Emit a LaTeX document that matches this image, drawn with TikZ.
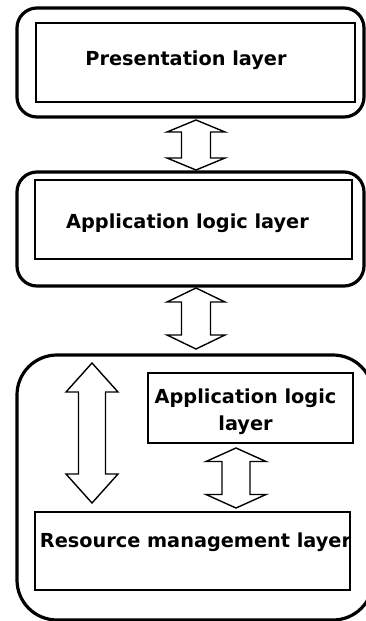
\documentclass[tikz,border=0pt]{standalone}
\usepackage{fontspec}
\setmainfont{DejaVu Sans}
\usetikzlibrary{calc}

% hollow two-way arrow between two points: #3 half head width,
% #4 half shaft width, #5 head length (all in pt)
\newcommand\twowayarrow[5]{%
  \draw[twoway] let \p1=(#1), \p2=(#2) in
    (\x1,\y1) -- (\x1+#3pt,\y1-#5pt) -- (\x1+#4pt,\y1-#5pt)
    -- (\x1+#4pt,\y2+#5pt) -- (\x1+#3pt,\y2+#5pt) -- (\x1,\y2)
    -- (\x1-#3pt,\y2+#5pt) -- (\x1-#4pt,\y2+#5pt)
    -- (\x1-#4pt,\y1-#5pt) -- (\x1-#3pt,\y1-#5pt) -- cycle;}

\begin{document}
\begin{tikzpicture}[x=1pt,y=-1pt,
  tier/.style={draw, line width=3.2pt, rounded corners=#1, inner sep=0pt, outer sep=0pt},
  layerbox/.style={draw, line width=2pt, inner sep=0pt, outer sep=0pt},
  twoway/.style={draw, fill=white, line width=1.4pt, line join=miter},
  caption/.style={font=\bfseries\fontsize{19.3}{27}\selectfont, align=center,
    inner sep=0pt, anchor=base}]

\fill[white] (0,0) rectangle (365,621);
\useasboundingbox (0,0) rectangle (365,621);

% client tier
\node[tier=20pt, minimum width=347pt, minimum height=109pt] (o1) at (190.5,62.5) {};
\node[layerbox, minimum width=319pt, minimum height=79pt] (p1) at (195.5,62.5) {};
\node[caption] (t1) at (186,65) {Presentation layer};

% middle tier
\node[tier=20pt, minimum width=347pt, minimum height=114pt] (o2) at (190.5,229) {};
\node[layerbox, minimum width=317pt, minimum height=79pt] (p2) at (193.5,219.5) {};
\node[caption] (t2) at (187.5,228) {Application logic layer};

% server tier
\node[tier=40pt, minimum width=356pt, minimum height=265pt] (o3) at (195,487.5) {};
\node[layerbox, minimum width=205pt, minimum height=70pt] (p3) at (250.5,408) {};
\node[caption] (t3) at (245.5,430) {Application logic\\layer};
\node[layerbox, minimum width=315pt, minimum height=78pt] (p4) at (192.5,551) {};
\node[caption] (t4) at (195.5,547) {Resource management layer};

% arrow end points
\coordinate (a1t) at ($(o1.south)+(5.5,3)$);
\coordinate (a1b) at ($(o2.north)+(5.5,-2)$);
\coordinate (a2t) at ($(o2.south)+(5.5,2)$);
\coordinate (a2b) at ($(o3.north)+(1,-6)$);
\coordinate (a3t) at ($(o3.north west)+(75,8)$);
\coordinate (a3b) at ($(p4.north west)+(57,-9)$);
\coordinate (a4t) at ($(p3.south)+(-14.5,5)$);
\coordinate (a4b) at ($(p4.north)+(43.5,-4)$);

\twowayarrow{a1t}{a1b}{29}{14.5}{12}
\twowayarrow{a2t}{a2b}{29}{14.5}{14}
\twowayarrow{a3t}{a3b}{26}{13.5}{29}
\twowayarrow{a4t}{a4b}{30}{14}{13.5}

\end{tikzpicture}
\end{document}
